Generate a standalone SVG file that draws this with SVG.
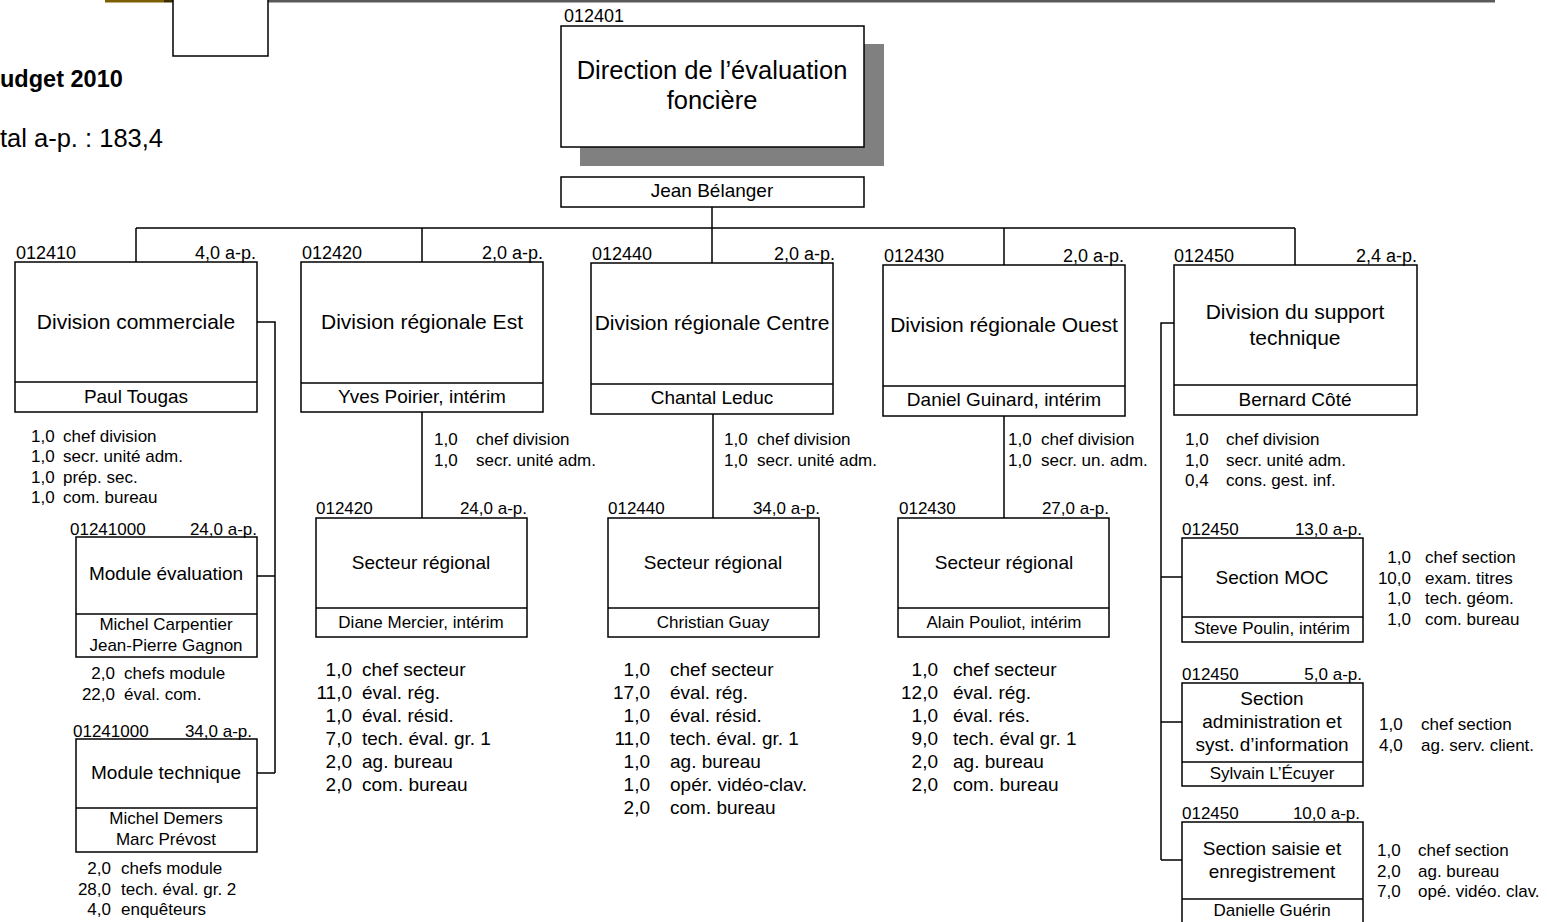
<svg xmlns="http://www.w3.org/2000/svg" width="1547" height="922" viewBox="0 0 1547 922">
<style>
text{font-family:"Liberation Sans",Arial,sans-serif;fill:#000}
.box{fill:#fff;stroke:#000;stroke-width:1.5}
.ln{fill:none;stroke:#000;stroke-width:1.5}
.c{text-anchor:middle}
.e{text-anchor:end}
.code{font-size:18px}
.scode{font-size:17px}
.dt{font-size:21px}
.dn{font-size:19px}
.st{font-size:19px}
.sn{font-size:17px}
.l17{font-size:17px}
.l19{font-size:19px}
</style>
<rect width="1547" height="922" fill="#fff"/>
<g id="header">
<rect x="105" y="0" width="59" height="2.5" fill="#7d5e00"/>
<rect x="164" y="0" width="59" height="2.5" fill="#3e2f00"/>
<rect x="223" y="0" width="1272" height="2.5" fill="#5a5a5a"/>
<rect x="173" y="-1" width="95" height="57" class="box"/>
<text x="0" y="87" style="font-size:23.5px;font-weight:bold">udget 2010</text>
<text x="0" y="147" style="font-size:25.5px">tal a-p. : 183,4</text>
</g>
<g id="connectors">
<path class="ln" d="M712 207V228M136 228H1295M136 228V262M422 228V262M712 228V263M1004 228V265M1295 228V265"/>
<path class="ln" d="M422 412V518M713 414V518M1004 416V518"/>
<path class="ln" d="M257 322H275V773M257 576H275M257 773H275"/>
<path class="ln" d="M1174 323H1161V860M1161 577H1182M1161 722H1182M1161 860H1182"/>
</g>
<g id="direction">
<rect x="580" y="44" width="304" height="122" fill="#808080"/>
<rect x="561" y="26" width="303" height="121" class="box"/>
<text x="564" y="22" class="code">012401</text>
<text x="712" y="79" class="c" style="font-size:25.5px">Direction de l’évaluation</text>
<text x="712" y="109" class="c" style="font-size:25.5px">foncière</text>
<rect x="561" y="177" width="303" height="30" class="box"/>
<text x="712" y="197" class="c dn">Jean Bélanger</text>
</g>
<g id="div-commerciale">
<rect x="15" y="262" width="242" height="150" class="box"/>
<line x1="15" y1="382" x2="257" y2="382" class="ln"/>
<text x="16" y="259" class="code">012410</text>
<text x="256" y="259" class="code e">4,0 a-p.</text>
<text x="136" y="329" class="c dt">Division commerciale</text>
<text x="136" y="403" class="c dn">Paul Tougas</text>
<g class="l17"><text x="31" y="442">1,0</text><text x="63" y="442">chef division</text>
<text x="31" y="462">1,0</text><text x="63" y="462">secr. unité adm.</text>
<text x="31" y="483">1,0</text><text x="63" y="483">prép. sec.</text>
<text x="31" y="503">1,0</text><text x="63" y="503">com. bureau</text></g>
</g>
<g id="module-evaluation">
<rect x="76" y="537" width="181" height="120" class="box"/>
<line x1="76" y1="614" x2="257" y2="614" class="ln"/>
<text x="70" y="535" class="scode">01241000</text>
<text x="257" y="535" class="scode e">24,0 a-p.</text>
<text x="166" y="580" class="c st">Module évaluation</text>
<text x="166" y="630" class="c sn">Michel Carpentier</text>
<text x="166" y="651" class="c sn">Jean-Pierre Gagnon</text>
<g class="l17"><text x="115" y="679" class="e">2,0</text><text x="124" y="679">chefs module</text>
<text x="115" y="700" class="e">22,0</text><text x="124" y="700">éval. com.</text></g>
</g>
<g id="module-technique">
<rect x="76" y="739" width="181" height="113" class="box"/>
<line x1="76" y1="808" x2="257" y2="808" class="ln"/>
<text x="73" y="737" class="scode">01241000</text>
<text x="252" y="737" class="scode e">34,0 a-p.</text>
<text x="166" y="779" class="c st">Module technique</text>
<text x="166" y="824" class="c sn">Michel Demers</text>
<text x="166" y="845" class="c sn">Marc Prévost</text>
<g class="l17"><text x="111" y="874" class="e">2,0</text><text x="121" y="874">chefs module</text>
<text x="111" y="895" class="e">28,0</text><text x="121" y="895">tech. éval. gr. 2</text>
<text x="111" y="915" class="e">4,0</text><text x="121" y="915">enquêteurs</text></g>
</g>
<g id="div-est">
<rect x="301" y="262" width="242" height="150" class="box"/>
<line x1="301" y1="383" x2="543" y2="383" class="ln"/>
<text x="302" y="259" class="code">012420</text>
<text x="543" y="259" class="code e">2,0 a-p.</text>
<text x="422" y="329" class="c dt">Division régionale Est</text>
<text x="422" y="403" class="c dn">Yves Poirier, intérim</text>
<g class="l17"><text x="434" y="445">1,0</text><text x="476" y="445">chef division</text>
<text x="434" y="466">1,0</text><text x="476" y="466">secr. unité adm.</text></g>
</g>
<g id="secteur-est">
<rect x="316" y="518" width="211" height="119" class="box"/>
<line x1="316" y1="608" x2="527" y2="608" class="ln"/>
<text x="316" y="514" class="scode">012420</text>
<text x="527" y="514" class="scode e">24,0 a-p.</text>
<text x="421" y="569" class="c st">Secteur régional</text>
<text x="421" y="628" class="c sn">Diane Mercier, intérim</text>
<g class="l19"><text x="352" y="676" class="e">1,0</text><text x="362" y="676">chef secteur</text>
<text x="352" y="699" class="e">11,0</text><text x="362" y="699">éval. rég.</text>
<text x="352" y="722" class="e">1,0</text><text x="362" y="722">éval. résid.</text>
<text x="352" y="745" class="e">7,0</text><text x="362" y="745">tech. éval. gr. 1</text>
<text x="352" y="768" class="e">2,0</text><text x="362" y="768">ag. bureau</text>
<text x="352" y="791" class="e">2,0</text><text x="362" y="791">com. bureau</text></g>
</g>
<g id="div-centre">
<rect x="591" y="263" width="242" height="151" class="box"/>
<line x1="591" y1="384" x2="833" y2="384" class="ln"/>
<text x="592" y="260" class="code">012440</text>
<text x="835" y="260" class="code e">2,0 a-p.</text>
<text x="712" y="330" class="c dt">Division régionale Centre</text>
<text x="712" y="404" class="c dn">Chantal Leduc</text>
<g class="l17"><text x="724" y="445">1,0</text><text x="757" y="445">chef division</text>
<text x="724" y="466">1,0</text><text x="757" y="466">secr. unité adm.</text></g>
</g>
<g id="secteur-centre">
<rect x="608" y="518" width="211" height="119" class="box"/>
<line x1="608" y1="608" x2="819" y2="608" class="ln"/>
<text x="608" y="514" class="scode">012440</text>
<text x="820" y="514" class="scode e">34,0 a-p.</text>
<text x="713" y="569" class="c st">Secteur régional</text>
<text x="713" y="628" class="c sn">Christian Guay</text>
<g class="l19"><text x="650" y="676" class="e">1,0</text><text x="670" y="676">chef secteur</text>
<text x="650" y="699" class="e">17,0</text><text x="670" y="699">éval. rég.</text>
<text x="650" y="722" class="e">1,0</text><text x="670" y="722">éval. résid.</text>
<text x="650" y="745" class="e">11,0</text><text x="670" y="745">tech. éval. gr. 1</text>
<text x="650" y="768" class="e">1,0</text><text x="670" y="768">ag. bureau</text>
<text x="650" y="791" class="e">1,0</text><text x="670" y="791">opér. vidéo-clav.</text>
<text x="650" y="814" class="e">2,0</text><text x="670" y="814">com. bureau</text></g>
</g>
<g id="div-ouest">
<rect x="883" y="265" width="242" height="151" class="box"/>
<line x1="883" y1="386" x2="1125" y2="386" class="ln"/>
<text x="884" y="262" class="code">012430</text>
<text x="1124" y="262" class="code e">2,0 a-p.</text>
<text x="1004" y="332" class="c dt">Division régionale Ouest</text>
<text x="1004" y="406" class="c dn">Daniel Guinard, intérim</text>
<g class="l17"><text x="1008" y="445">1,0</text><text x="1041" y="445">chef division</text>
<text x="1008" y="466">1,0</text><text x="1041" y="466">secr. un. adm.</text></g>
</g>
<g id="secteur-ouest">
<rect x="898" y="518" width="211" height="119" class="box"/>
<line x1="898" y1="608" x2="1109" y2="608" class="ln"/>
<text x="899" y="514" class="scode">012430</text>
<text x="1109" y="514" class="scode e">27,0 a-p.</text>
<text x="1004" y="569" class="c st">Secteur régional</text>
<text x="1004" y="628" class="c sn">Alain Pouliot, intérim</text>
<g class="l19"><text x="938" y="676" class="e">1,0</text><text x="953" y="676">chef secteur</text>
<text x="938" y="699" class="e">12,0</text><text x="953" y="699">éval. rég.</text>
<text x="938" y="722" class="e">1,0</text><text x="953" y="722">éval. rés.</text>
<text x="938" y="745" class="e">9,0</text><text x="953" y="745">tech. éval gr. 1</text>
<text x="938" y="768" class="e">2,0</text><text x="953" y="768">ag. bureau</text>
<text x="938" y="791" class="e">2,0</text><text x="953" y="791">com. bureau</text></g>
</g>
<g id="div-support">
<rect x="1174" y="265" width="243" height="150" class="box"/>
<line x1="1174" y1="385" x2="1417" y2="385" class="ln"/>
<text x="1174" y="262" class="code">012450</text>
<text x="1417" y="262" class="code e">2,4 a-p.</text>
<text x="1295" y="319" class="c dt">Division du support</text>
<text x="1295" y="345" class="c dt">technique</text>
<text x="1295" y="406" class="c dn">Bernard Côté</text>
<g class="l17"><text x="1185" y="445">1,0</text><text x="1226" y="445">chef division</text>
<text x="1185" y="466">1,0</text><text x="1226" y="466">secr. unité adm.</text>
<text x="1185" y="486">0,4</text><text x="1226" y="486">cons. gest. inf.</text></g>
</g>
<g id="section-moc">
<rect x="1182" y="538" width="181" height="104" class="box"/>
<line x1="1182" y1="617" x2="1363" y2="617" class="ln"/>
<text x="1182" y="535" class="scode">012450</text>
<text x="1362" y="535" class="scode e">13,0 a-p.</text>
<text x="1272" y="584" class="c st">Section MOC</text>
<text x="1272" y="634" class="c sn">Steve Poulin, intérim</text>
<g class="l17"><text x="1411" y="563" class="e">1,0</text><text x="1425" y="563">chef section</text>
<text x="1411" y="584" class="e">10,0</text><text x="1425" y="584">exam. titres</text>
<text x="1411" y="604" class="e">1,0</text><text x="1425" y="604">tech. géom.</text>
<text x="1411" y="625" class="e">1,0</text><text x="1425" y="625">com. bureau</text></g>
</g>
<g id="section-admin">
<rect x="1182" y="683" width="181" height="103" class="box"/>
<line x1="1182" y1="762" x2="1363" y2="762" class="ln"/>
<text x="1182" y="680" class="scode">012450</text>
<text x="1362" y="680" class="scode e">5,0 a-p.</text>
<text x="1272" y="705" class="c st">Section</text>
<text x="1272" y="728" class="c st">administration et</text>
<text x="1272" y="751" class="c st">syst. d’information</text>
<text x="1272" y="779" class="c sn">Sylvain L’Écuyer</text>
<g class="l17"><text x="1379" y="730">1,0</text><text x="1421" y="730">chef section</text>
<text x="1379" y="751">4,0</text><text x="1421" y="751">ag. serv. client.</text></g>
</g>
<g id="section-saisie">
<rect x="1182" y="822" width="181" height="110" class="box"/>
<line x1="1182" y1="899" x2="1363" y2="899" class="ln"/>
<text x="1182" y="819" class="scode">012450</text>
<text x="1360" y="819" class="scode e">10,0 a-p.</text>
<text x="1272" y="855" class="c st">Section saisie et</text>
<text x="1272" y="878" class="c st">enregistrement</text>
<text x="1272" y="916" class="c sn">Danielle Guérin</text>
<g class="l17"><text x="1377" y="856">1,0</text><text x="1418" y="856">chef section</text>
<text x="1377" y="877">2,0</text><text x="1418" y="877">ag. bureau</text>
<text x="1377" y="897">7,0</text><text x="1418" y="897">opé. vidéo. clav.</text></g>
</g>
</svg>
